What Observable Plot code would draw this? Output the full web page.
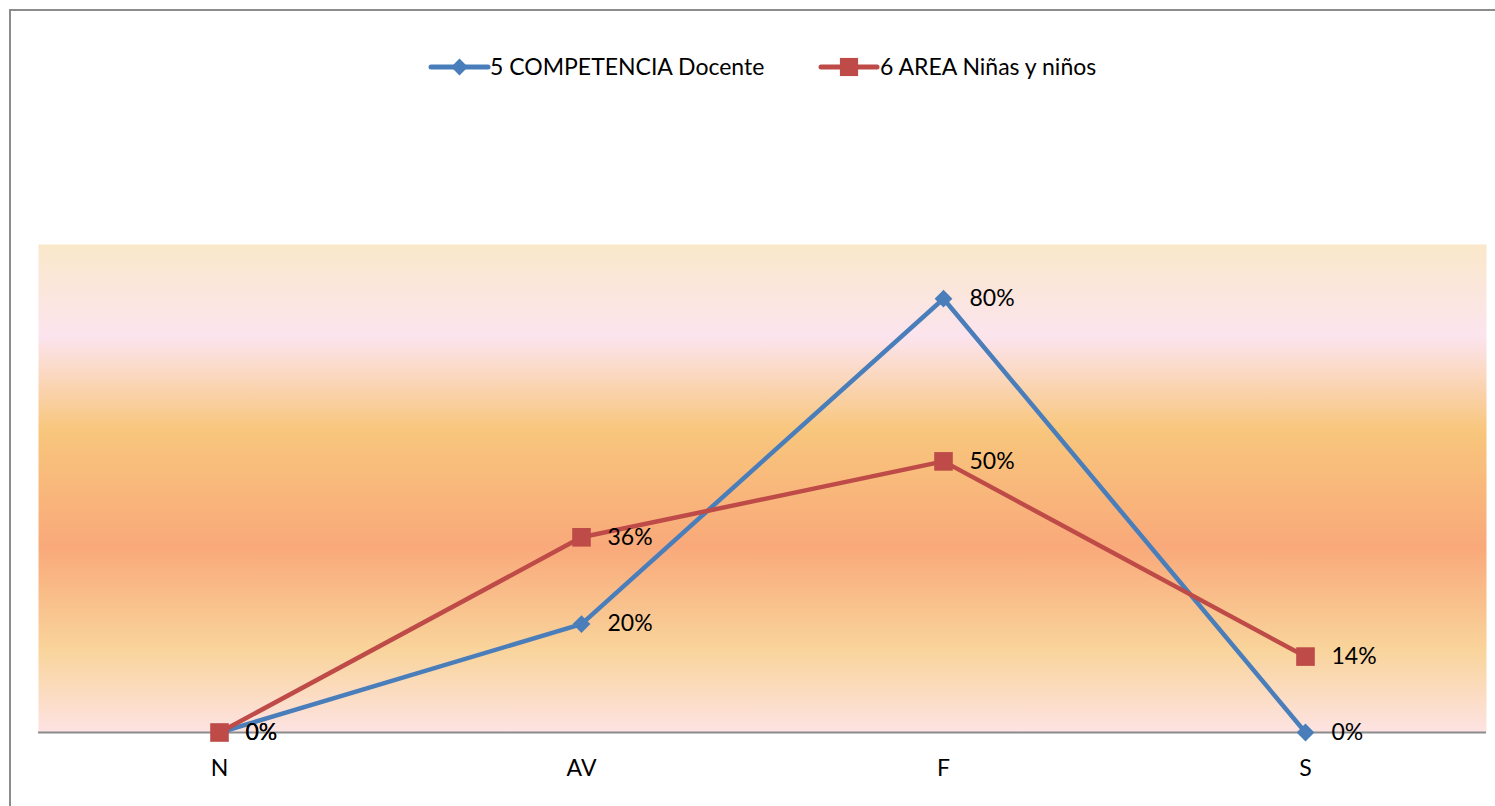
<!DOCTYPE html>
<html>
<head>
<meta charset="utf-8">
<script src="https://cdn.jsdelivr.net/npm/d3@7"></script>
<script src="https://cdn.jsdelivr.net/npm/@observablehq/plot@0.6"></script>
<style>
  html, body { margin: 0; padding: 0; background: #fff; }
  #wrap { position: relative; width: 1495px; height: 806px; overflow: hidden; font-family: Lato, "Open Sans", sans-serif; }
  #border { position: absolute; left: 9px; top: 9px; width: 1600px; height: 900px; border-left: 2px solid #8c8c8c; border-top: 2px solid #8c8c8c; box-sizing: border-box; }
  #legend { position: absolute; top: 52px; left: 0; width: 1495px; height: 30px; }
  #chart { position: absolute; left: 0; top: 0; }
</style>
</head>
<body>
<div id="wrap">
  <div id="border"></div>
  <div id="chart"></div>
  <svg id="legend" width="1495" height="30"></svg>
</div>
<script>
const categories = ["N", "AV", "F", "S"];
const seriesNames = ["5 COMPETENCIA Docente", "6 AREA Niñas y niños"];
const docente = [0, 0.20, 0.80, 0];
const ninos = [0, 0.36, 0.50, 0.14];
const colors = ["#4A7EBB", "#BE4B48"];

const rows = [];
categories.forEach((c, i) => rows.push({cat: c, value: docente[i], series: seriesNames[0]}));
categories.forEach((c, i) => rows.push({cat: c, value: ninos[i], series: seriesNames[1]}));
const rowsDoc = rows.filter(d => d.series === seriesNames[0]);
const rowsNin = rows.filter(d => d.series === seriesNames[1]);

const fmt = d3.format(".0%");

const plot = Plot.plot({
  width: 1495,
  height: 806,
  marginLeft: 38,
  marginRight: 9,
  marginTop: 244,
  marginBottom: 74,
  style: {fontFamily: "Lato, 'Open Sans', sans-serif", fontSize: "23px", background: "transparent", overflow: "visible"},
  x: {type: "point", domain: categories, padding: 0.5, label: null, tickSize: 0, tickPadding: 27},
  y: {domain: [0, 0.9], axis: null},
  marks: [
    Plot.frame({fill: "url(#bgGrad)", stroke: null}),
    Plot.ruleY([0], {stroke: "#8c8c8c", strokeWidth: 2}),
    Plot.line(rowsDoc, {x: "cat", y: "value", stroke: colors[0], strokeWidth: 4.5}),
    Plot.dot(rowsDoc, {x: "cat", y: "value", symbol: "diamond2", r: 8, fill: colors[0], stroke: null}),
    Plot.line(rowsNin, {x: "cat", y: "value", stroke: colors[1], strokeWidth: 4.5}),
    Plot.dot(rowsNin, {x: "cat", y: "value", symbol: "square", r: 10.5, fill: colors[1], stroke: null}),
    Plot.text(rows, {x: "cat", y: "value", text: d => fmt(d.value), dx: 26, textAnchor: "start", fill: "#000", fontSize: 23})
  ]
});

const svg = d3.select(plot);
const defs = svg.insert("defs", ":first-child");
const grad = defs.append("linearGradient").attr("id", "bgGrad").attr("x1", 0).attr("y1", 0).attr("x2", 0).attr("y2", 1);
[
  [0, "#FAE8CA"],
  [0.19, "#FCE4EE"],
  [0.38, "#F8C67C"],
  [0.62, "#F9A97A"],
  [0.83, "#F9D49B"],
  [1, "#FDE3E3"]
].forEach(([o, c]) => grad.append("stop").attr("offset", o).attr("stop-color", c));

document.getElementById("chart").appendChild(plot);

// Legend
const leg = d3.select("#legend");
const legItems = [
  {name: seriesNames[0], color: colors[0], x0: 431, x1: 488, tx: 490, symbol: d3.symbolDiamond2, size: 180},
  {name: seriesNames[1], color: colors[1], x0: 821, x1: 877, tx: 880, symbol: d3.symbolSquare, size: 330}
];
legItems.forEach(it => {
  leg.append("line").attr("x1", it.x0).attr("x2", it.x1).attr("y1", 15).attr("y2", 15)
    .attr("stroke", it.color).attr("stroke-width", 5).attr("stroke-linecap", "round");
  leg.append("path").attr("d", d3.symbol(it.symbol, it.size)()).attr("transform", `translate(${(it.x0 + it.x1) / 2},15)`).attr("fill", it.color);
  leg.append("text").attr("x", it.tx).attr("y", 15).attr("dy", "0.35em").attr("font-size", 23)
    .attr("font-family", "Lato, 'Open Sans', sans-serif").attr("fill", "#000").text(it.name);
});
</script>
</body>
</html>
